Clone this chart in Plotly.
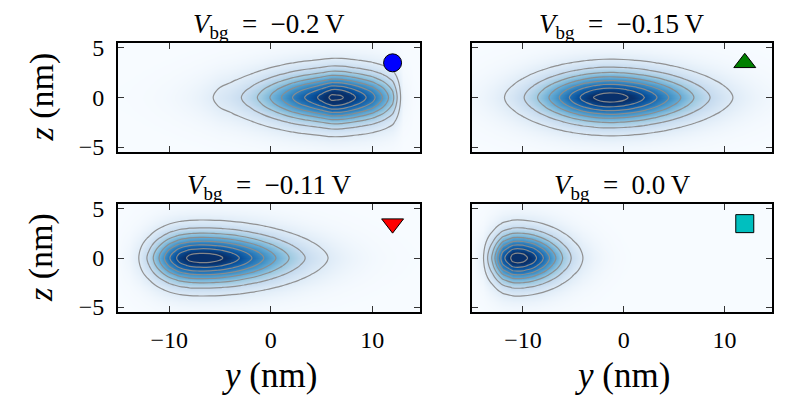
import plotly.graph_objects as go
import numpy as np

# ---- data ----
y_nm = [-15, -14, -13, -12, -11, -10, -9, -8, -7, -6, -5, -4, -3, -2, -1, 0,
        1, 2, 3, 4, 5, 6, 7, 8, 9, 10, 11, 12, 13, 14, 15]
z_nm = [-5.5, -5.25, -5.0, -4.75, -4.5, -4.25, -4.0, -3.75, -3.5, -3.25, -3.0, -2.75,
        -2.5, -2.25, -2.0, -1.75, -1.5, -1.25, -1.0, -0.75, -0.5, -0.25, 0.0,
        0.25, 0.5, 0.75, 1.0, 1.25, 1.5, 1.75, 2.0, 2.25, 2.5, 2.75, 3.0, 3.25,
        3.5, 3.75, 4.0, 4.25, 4.5, 4.75, 5.0, 5.25, 5.5]
# relative density profile across z (shared by all panels)
z_profile = [0.020, 0.027, 0.036, 0.048, 0.0625, 0.081, 0.103, 0.131, 0.164, 0.203, 0.249,
             0.301, 0.360, 0.426, 0.498, 0.573, 0.652, 0.731, 0.807, 0.877, 0.936, 0.980,
             1.0,
             0.980, 0.936, 0.877, 0.807, 0.731, 0.652, 0.573, 0.498, 0.426, 0.360, 0.301,
             0.249, 0.203, 0.164, 0.131, 0.103, 0.081, 0.0625, 0.048, 0.036, 0.027, 0.020]
# relative density profiles along y for each back-gate voltage
y_profile_m020 = [0.003, 0.004, 0.006, 0.009, 0.014, 0.02, 0.03, 0.045, 0.065, 0.095,
                  0.135, 0.165, 0.21, 0.27, 0.35, 0.44, 0.535, 0.635, 0.73, 0.81, 0.90,
                  1.0, 0.985, 0.90, 0.80, 0.69, 0.54, 0.36, 0.04, 0.005, 0.001]
y_profile_m015 = [0.028, 0.046, 0.072, 0.109, 0.159, 0.225, 0.308, 0.406, 0.517, 0.635,
                  0.752, 0.858, 0.941, 0.991, 0.997, 0.966, 0.907, 0.828, 0.735, 0.635,
                  0.534, 0.437, 0.349, 0.272, 0.206, 0.153, 0.110, 0.078, 0.053, 0.036, 0.024]
y_profile_m011 = [0.010, 0.041, 0.118, 0.265, 0.473, 0.695, 0.872, 0.970, 0.999, 0.994,
                  0.958, 0.896, 0.815, 0.720, 0.620, 0.519, 0.423, 0.336, 0.260, 0.196,
                  0.144, 0.103, 0.072, 0.049, 0.033, 0.021, 0.013, 0.008, 0.005, 0.003, 0.002]
y_profile_000 = [0.008, 0.090, 0.380, 0.780, 0.984, 0.989, 0.884, 0.711, 0.517, 0.342,
                 0.206, 0.113, 0.057, 0.026, 0.011, 0.004, 0.0015, 0.0005, 0.0002, 0.0001,
                 0, 0, 0, 0, 0, 0, 0, 0, 0, 0, 0]
v_bg = [-0.2, -0.15, -0.11, 0.0]
v_labels = ["\u22120.2", "\u22120.15", "\u22120.11", "0.0"]
n_levels = [9, 8, 8, 8]
level_step = [0.1081, 0.1176, 0.1176, 0.1176]
marker_y = [12, 12, 12, 12]
marker_z = [3.5, 3.5, 3.5, 3.5]
marker_symbols = ["circle", "triangle-up", "triangle-down", "square"]
marker_colors = ["#0000ff", "#008000", "#ff0000", "#00bfbf"]
marker_sizes = [18, 19, 19, 18]
x_ticks = [-10, 0, 10]
z_ticks = [-5, 0, 5]

profiles = [y_profile_m020, y_profile_m015, y_profile_m011, y_profile_000]

blues = [[0.0, "rgb(247,251,255)"], [0.125, "rgb(222,235,247)"], [0.25, "rgb(198,219,239)"],
         [0.375, "rgb(158,202,225)"], [0.5, "rgb(107,174,214)"], [0.625, "rgb(66,146,198)"],
         [0.75, "rgb(33,113,181)"], [0.875, "rgb(8,81,156)"], [1.0, "rgb(8,48,107)"]]

OFF = 8                      # page body margin (figure is drawn 8 px right/down)
W, H = 789, 395
# panel boxes in screen pixels: (left, right, top, bottom)
boxes = [(118, 420, 43, 152), (472, 772, 43, 152), (118, 420, 204, 312), (472, 772, 204, 312)]


def px(x):
    return (x - OFF) / W


def py(y):
    return 1 - (y - OFF) / H


FONT = "Liberation Serif, DejaVu Serif, serif"
NB = "\u00a0"

fig = go.Figure()
layout = dict(width=W, height=H, margin=dict(l=0, r=0, t=0, b=0, autoexpand=False),
              paper_bgcolor="white", plot_bgcolor="white", showlegend=False,
              font=dict(family=FONT, size=24, color="black"))
annotations = []

for i in range(4):
    sfx = "" if i == 0 else str(i + 1)
    xa, ya = "x" + sfx, "y" + sfx
    dens = np.outer(np.array(z_profile), np.array(profiles[i]))
    fig.add_trace(go.Heatmap(x=y_nm, y=z_nm, z=dens, colorscale=blues, zmin=0,
                             zmax=0.92 * float(dens.max()), zsmooth="best", showscale=False,
                             hoverinfo="skip", xaxis=xa, yaxis=ya))
    st = level_step[i]
    fig.add_trace(go.Contour(x=y_nm, y=z_nm, z=dens, showscale=False, hoverinfo="skip",
                             contours=dict(coloring="none", start=st,
                                           end=st * n_levels[i] + 0.001, size=st),
                             line=dict(color="rgba(140,140,140,0.95)", width=1.2, smoothing=1.3),
                             xaxis=xa, yaxis=ya))
    fig.add_trace(go.Scatter(x=[marker_y[i]], y=[marker_z[i]], mode="markers",
                             marker=dict(symbol=marker_symbols[i], color=marker_colors[i],
                                         size=marker_sizes[i], line=dict(color="black", width=1)),
                             hoverinfo="skip", xaxis=xa, yaxis=ya))
    l, r, t, b = boxes[i]
    common = dict(showline=True, linecolor="black", linewidth=2, mirror="allticks",
                  ticks="inside", ticklen=6, tickwidth=1.2, tickcolor="#333",
                  showgrid=False, zeroline=False, automargin=False,
                  tickfont=dict(family=FONT, size=24))
    layout["xaxis" + sfx] = dict(common, domain=[px(l), px(r)], anchor=ya,
                                 range=[-15.05, 14.7], tickvals=x_ticks,
                                 showticklabels=(i >= 2), ticklabelstandoff=5)
    layout["yaxis" + sfx] = dict(common, domain=[py(b), py(t)], anchor=xa,
                                 range=[-5.5, 5.5], tickvals=z_ticks,
                                 showticklabels=(i % 2 == 0), ticklabelstandoff=7)
    annotations.append(dict(text="<i>V</i><sub>bg</sub>" + NB * 2 + "=" + NB * 2 + v_labels[i]
                            + "\u2009V",
                            x=px((l + r) / 2), y=py(t - 17), xref="paper", yref="paper",
                            xanchor="center", yanchor="middle", showarrow=False,
                            font=dict(family=FONT, size=27)))
    if i % 2 == 0:
        annotations.append(dict(text="<i>z</i> (nm)", x=px(41), y=py((t + b) / 2),
                                xref="paper", yref="paper", xanchor="center", yanchor="middle",
                                textangle=-90, showarrow=False, font=dict(family=FONT, size=34)))
    if i >= 2:
        annotations.append(dict(text="<i>y</i> (nm)", x=px((l + r) / 2), y=py(375),
                                xref="paper", yref="paper", xanchor="center", yanchor="middle",
                                showarrow=False, font=dict(family=FONT, size=35)))

layout["annotations"] = annotations
fig.update_layout(**layout)
fig.write_html("out.html")
